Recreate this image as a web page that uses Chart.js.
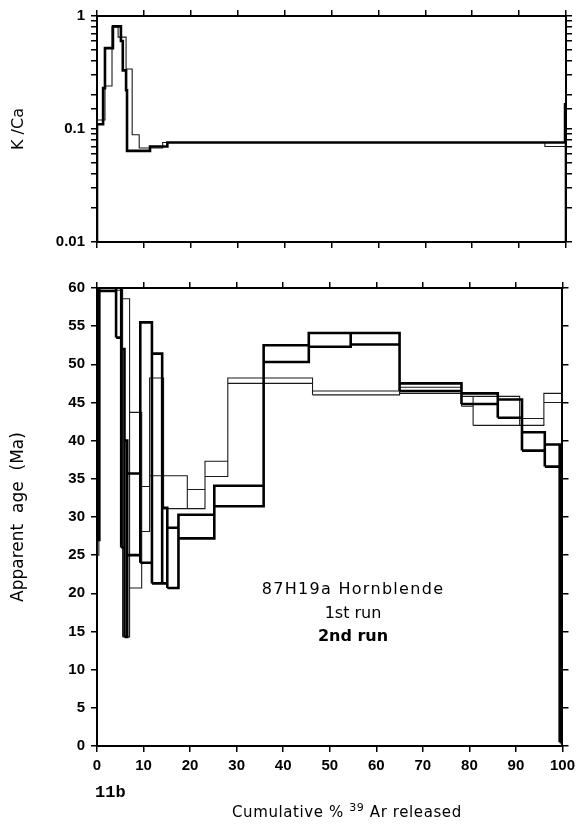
<!DOCTYPE html>
<html>
<head>
<meta charset="utf-8">
<script src="https://cdn.jsdelivr.net/npm/chart.js@4.4.1/dist/chart.umd.min.js"></script>
<style>
  body { margin: 0; background: #fff; }
  #wrap { position: relative; width: 580px; height: 825px; overflow: hidden; font-family: "DejaVu Sans", sans-serif; color: #000; }
  canvas { position: absolute; left: 0; }
  .txt { position: absolute; white-space: nowrap; }
</style>
</head>
<body>
<div id="wrap">
  <canvas id="kcaChart" width="580" height="262" style="top:0"></canvas>
  <canvas id="ageChart" width="580" height="555" style="top:270px"></canvas>
  <div class="txt" style="left:0;width:706px;top:579px;text-align:center;font-size:16px;letter-spacing:1.3px;">87H19a Hornblende</div>
  <div class="txt" style="left:0;width:706px;top:603px;text-align:center;font-size:16px;">1st run</div>
  <div class="txt" style="left:0;width:706px;top:626px;text-align:center;font-size:16px;font-weight:bold;">2nd run</div>
  <div class="txt" style="left:95px;top:783px;font-family:'Liberation Mono',monospace;font-weight:bold;font-size:17px;">11b</div>
  <div class="txt" style="left:232px;top:801px;font-size:15px;letter-spacing:0.6px;">Cumulative % <sup style="font-size:11px;">39</sup> Ar released</div>
</div>
<script>
// step-heating spectrum, two runs: cumulative % 39Ar at end of each step
const run1End = [0.4, 5.5, 7.0, 9.6, 11.3, 14.3, 19.4, 23.2, 28.1, 46.3, 65.0, 78.3, 80.8, 90.8, 96.0, 100];
const run1Age = [57.5, 74.85, 36.45, 32.2, 31.05, 41.8, 33.25, 32.35, 36.3, 47.85, 46.25, 46.6, 45.15, 43.9, 42.45, 45.6];
const run1Err = [32.5, 15.15, 22.15, 11.5, 2.95, 6.4, 2.15, 1.25, 1.0, 0.35, 0.25, 0.4, 0.65, 1.9, 0.45, 0.6];

const run2End = [0.5, 4.1, 5.2, 5.9, 6.5, 9.3, 11.8, 14.0, 15.1, 17.5, 25.2, 35.8, 45.5, 54.5, 65.0, 78.3, 86.1, 91.3, 96.2, 99.4, 100];
const run2Age = [58.5, 74.8, 71.75, 39.0, 27.15, 30.35, 39.75, 36.35, 26.25, 24.65, 28.75, 32.75, 51.4, 53.2, 53.35, 47.0, 45.5, 44.2, 39.9, 38.05, 19.75];
const run2Err = [31.5, 15.2, 18.25, 13.0, 12.85, 5.35, 15.75, 15.05, 4.95, 3.95, 1.55, 1.35, 1.1, 0.9, 0.75, 0.5, 0.7, 1.2, 1.2, 1.45, 19.25];

// K/Ca per step
const kca1End = [1.7, 3.2, 4.5, 6.2, 7.5, 9.0, 14.0, 95.5, 100];
const kca1 = [0.12, 0.24, 0.80, 0.65, 0.34, 0.089, 0.068, 0.076, 0.070];
const kca2End = [1.3, 1.7, 3.4, 5.1, 5.5, 6.2, 6.4, 11.3, 15.0, 99.8, 100];
const kca2 = [0.11, 0.23, 0.52, 0.81, 0.60, 0.33, 0.22, 0.064, 0.070, 0.076, 0.165];

const kcaLabels = ["1", "0.1", "0.01"];

// one rectangle per step (age +/- error), adjacent steps joined by a riser
function boxes(ends, ages, errs) {
  const pts = [];
  let x0 = 0;
  ends.forEach((x1, i) => {
    const lo = ages[i] - errs[i], hi = ages[i] + errs[i];
    pts.push({x: x0, y: lo}, {x: x1, y: lo}, {x: x1, y: hi}, {x: x0, y: hi}, {x: x0, y: lo}, {x: x0, y: null});
    if (i < ends.length - 1) {
      const nlo = ages[i + 1] - errs[i + 1], nhi = ages[i + 1] + errs[i + 1];
      pts.push({x: x1, y: Math.min(lo, nlo)}, {x: x1, y: Math.max(hi, nhi)}, {x: x1, y: null});
    }
    x0 = x1;
  });
  return pts;
}

function steps(ends, vals, base) {
  const pts = [{x: 0, y: base}];
  let x0 = 0;
  ends.forEach((x1, i) => {
    pts.push({x: x0, y: vals[i]}, {x: x1, y: vals[i]});
    x0 = x1;
  });
  pts.push({x: 100, y: base});
  return pts;
}

const tickFont = {family: "Liberation Sans", size: 15, weight: "bold"};
const titleFont = {family: "DejaVu Sans", size: 16};
const grid = {drawOnChartArea: false, drawTicks: true, tickLength: 6, lineWidth: 1.5, color: "#000"};
const border = {display: true, width: 2, color: "#000"};

function xAxis(pos, h, labels) {
  return {
    type: "linear", position: pos, min: 0, max: 100,
    grid: grid, border: border,
    ticks: {stepSize: 10, display: labels, color: "#000", font: tickFont, padding: 5, maxRotation: 0},
    afterFit: s => { s.height = h; }
  };
}

const thin = {borderColor: "#1a1a1a", borderWidth: 1.1, pointRadius: 0, fill: false, spanGaps: false, tension: 0};
const thick = {borderColor: "#000", borderWidth: 2.6, pointRadius: 0, fill: false, spanGaps: false, tension: 0};

new Chart(document.getElementById("kcaChart"), {
  type: "line",
  data: {
    datasets: [
      Object.assign({label: "2nd run", data: steps(kca2End, kca2, 0.01)}, thick),
      Object.assign({label: "1st run", data: steps(kca1End, kca1, 0.01)}, thin)
    ]
  },
  options: {
    responsive: false,
    animation: false,
    layout: {padding: 0},
    plugins: {legend: {display: false}, tooltip: {enabled: false}},
    scales: {
      x: xAxis("bottom", 20, false),
      x2: xAxis("top", 16, false),
      y: {
        type: "logarithmic", position: "left", min: 0.01, max: 1,
        grid: grid, border: border,
        ticks: {
          color: "#000", font: tickFont, padding: 6, autoSkip: false,
          callback: v => {
            const e = Math.log10(v);
            return Math.abs(e - Math.round(e)) < 1e-6 ? kcaLabels[-Math.round(e)] : "";
          }
        },
        title: {display: true, text: "K /Ca", color: "#000", font: titleFont, padding: {top: 9}},
        afterFit: s => { s.width = 97; }
      },
      y2: {
        type: "logarithmic", position: "right", min: 0.01, max: 1,
        grid: grid, border: border,
        ticks: {display: false, autoSkip: false},
        afterFit: s => { s.width = 14; }
      }
    }
  }
});

new Chart(document.getElementById("ageChart"), {
  type: "line",
  data: {
    datasets: [
      Object.assign({label: "2nd run", data: boxes(run2End, run2Age, run2Err)}, thick),
      Object.assign({label: "1st run", data: boxes(run1End, run1Age, run1Err)}, thin)
    ]
  },
  options: {
    responsive: false,
    animation: false,
    layout: {padding: 0},
    plugins: {legend: {display: false}, tooltip: {enabled: false}},
    scales: {
      x: xAxis("bottom", 79, true),
      x2: xAxis("top", 18, false),
      y: {
        type: "linear", position: "left", min: 0, max: 60,
        grid: grid, border: border,
        ticks: {stepSize: 5, color: "#000", font: tickFont, padding: 6},
        title: {display: true, text: "Apparent  age  (Ma)", color: "#000", font: {family: "DejaVu Sans", size: 17}, padding: {top: 8}},
        afterFit: s => { s.width = 97; }
      },
      y2: {
        type: "linear", position: "right", min: 0, max: 60,
        grid: grid, border: border,
        ticks: {stepSize: 5, display: false},
        afterFit: s => { s.width = 14; }
      }
    }
  }
});
</script>
</body>
</html>
